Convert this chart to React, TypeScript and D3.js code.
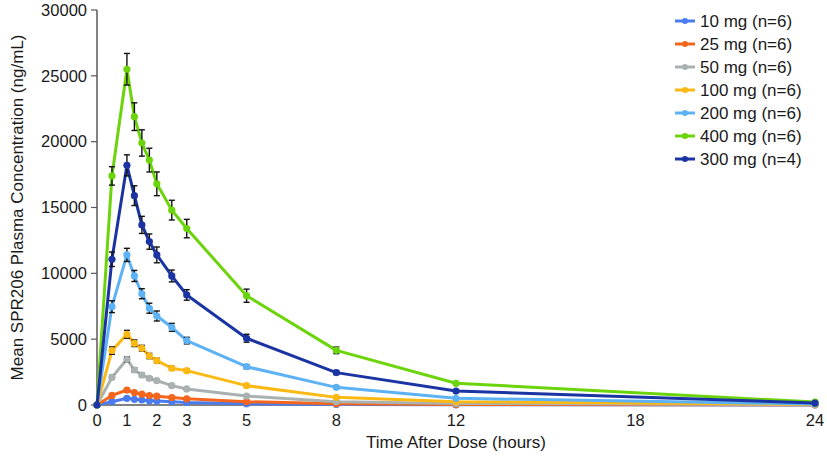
import React from "react";
import * as d3 from "d3";

const times = [0, 0.5, 1, 1.25, 1.5, 1.75, 2, 2.5, 3, 5, 8, 12, 24];
const xTicks = [0, 1, 2, 3, 5, 8, 12, 18, 24];
const yTicks = [0, 5000, 10000, 15000, 20000, 25000, 30000];

const seriesNames = ["10 mg (n=6)", "25 mg (n=6)", "50 mg (n=6)", "100 mg (n=6)", "200 mg (n=6)", "400 mg (n=6)", "300 mg (n=4)"];
const seriesColors = ["#4a7cf0", "#f4661b", "#a9b1b1", "#fdb913", "#5cb2f5", "#6cd40a", "#1b34a3"];

const mean10 = [0, 250, 510, 430, 380, 330, 300, 240, 190, 100, 40, 15, 0];
const mean25 = [0, 730, 1140, 940, 820, 720, 670, 570, 470, 250, 100, 40, 10];
const mean50 = [0, 2100, 3470, 2660, 2280, 2030, 1850, 1470, 1220, 680, 250, 120, 20];
const mean100 = [0, 4130, 5370, 4690, 4310, 3720, 3370, 2790, 2610, 1470, 580, 250, 40];
const mean200 = [0, 7470, 11400, 9800, 8450, 7350, 6760, 5900, 4890, 2910, 1340, 510, 80];
const mean400 = [0, 17400, 25500, 21900, 19900, 18600, 16800, 14800, 13400, 8300, 4150, 1650, 220];
const mean300 = [0, 11070, 18200, 15900, 13680, 12410, 11400, 9800, 8360, 5070, 2460, 1060, 150];

const err10 = [0, 30, 50, 40, 35, 30, 25, 20, 15, 10, 5, 2, 0];
const err25 = [0, 60, 80, 60, 50, 45, 40, 35, 30, 20, 10, 5, 2];
const err50 = [0, 150, 200, 150, 130, 110, 100, 80, 70, 40, 20, 10, 3];
const err100 = [0, 280, 300, 250, 220, 200, 180, 150, 130, 80, 40, 20, 5];
const err200 = [0, 450, 500, 420, 380, 380, 380, 300, 250, 150, 80, 40, 10];
const err400 = [0, 700, 1200, 1050, 1000, 900, 900, 750, 700, 500, 250, 100, 50];
const err300 = [0, 550, 800, 750, 650, 580, 600, 450, 400, 300, 150, 80, 30];

const means = [mean10, mean25, mean50, mean100, mean200, mean400, mean300];
const errs = [err10, err25, err50, err100, err200, err400, err300];

const FONT = "'Liberation Sans', Arial, sans-serif";

export default function App() {
  const W = 827, H = 458;
  const x = d3.scaleLinear().domain([0, 24]).range([97, 815]);
  const y = d3.scaleLinear().domain([0, 30000]).range([405, 10]);
  const line = d3.line<number>().x((_, i) => x(times[i])).y((d) => y(d));
  const axisColor = "#595959";

  return (
    <svg width={W} height={H} style={{ position: "absolute", left: 0, top: 0, background: "#fff" }} fontFamily={FONT}>
      {/* y axis */}
      <line x1={x(0)} x2={x(0)} y1={y(30000)} y2={y(0)} stroke={axisColor} strokeWidth={1.5} />
      {yTicks.map((t) => (
        <g key={t}>
          <line x1={x(0) - 6} x2={x(0)} y1={y(t)} y2={y(t)} stroke={axisColor} strokeWidth={1.2} />
          <text x={x(0) - 10} y={y(t)} dy="0.35em" textAnchor="end" fontSize={16.5} fill="#1a1a1a">{t}</text>
        </g>
      ))}
      {/* x axis */}
      <line x1={x(0)} x2={x(24) + 4} y1={y(0)} y2={y(0)} stroke={axisColor} strokeWidth={1.5} />
      {xTicks.map((t) => (
        <text key={t} x={x(t)} y={y(0) + 21} textAnchor="middle" fontSize={16.5} fill="#1a1a1a">{t}</text>
      ))}
      <text x={456} y={448} textAnchor="middle" fontSize={17} fill="#1a1a1a">Time After Dose (hours)</text>
      <text transform={`translate(23,${y(15000)}) rotate(-90)`} textAnchor="middle" fontSize={17} fill="#1a1a1a">
        Mean SPR206 Plasma Concentration (ng/mL)
      </text>

      {means.map((m, si) => (
        <g key={si}>
          <path d={line(m) || ""} fill="none" stroke={seriesColors[si]} strokeWidth={3} strokeLinejoin="round" />
          {m.map((v, i) => {
            const e = errs[si][i];
            if (!e) return null;
            const cx = x(times[i]);
            return (
              <g key={i} stroke="#111" strokeWidth={1.4}>
                <line x1={cx} x2={cx} y1={y(v + e)} y2={y(v - e)} />
                <line x1={cx - 3} x2={cx + 3} y1={y(v + e)} y2={y(v + e)} />
                <line x1={cx - 3} x2={cx + 3} y1={y(v - e)} y2={y(v - e)} />
              </g>
            );
          })}
          {m.map((v, i) => (
            <circle key={i} cx={x(times[i])} cy={y(v)} r={3.6} fill={seriesColors[si]} />
          ))}
        </g>
      ))}

      {/* legend */}
      {seriesNames.map((n, i) => {
        const ly = 21 + i * 23;
        return (
          <g key={n}>
            <line x1={675} x2={695} y1={ly} y2={ly} stroke={seriesColors[i]} strokeWidth={3} />
            <circle cx={685} cy={ly} r={3} fill={seriesColors[i]} />
            <text x={700} y={ly} dy="0.35em" fontSize={17} fill="#1a1a1a">{n}</text>
          </g>
        );
      })}
    </svg>
  );
}
